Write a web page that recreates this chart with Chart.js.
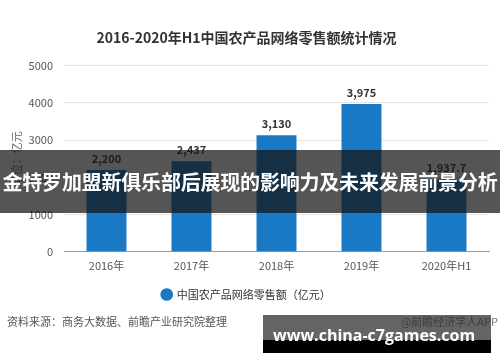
<!DOCTYPE html>
<html>
<head>
<meta charset="utf-8">
<script src="https://cdn.jsdelivr.net/npm/chart.js@4"></script>
<style>
  body { margin: 0; background: #fff; font-family: "Noto Sans CJK SC", sans-serif; }
  #wrap { position: relative; width: 500px; height: 362px; overflow: hidden; }
  #source { position: absolute; left: 7px; top: 313px; font-size: 11px; color: #555; }
  #app { position: absolute; right: 2px; top: 313px; font-size: 11px; color: #777; }
  #band { position: absolute; left: 0; top: 150px; width: 500px; height: 63px; background: rgba(20,20,20,0.72);
          color: #fff; font-weight: bold; font-size: 20px; line-height: 63px; white-space: nowrap; text-align: center; letter-spacing: -0.2px; }
  #site { position: absolute; left: 263px; top: 315px; width: 228px; height: 38px; }
  #site .top { height: 25px; background: rgba(40,40,40,0.72); }
  #site .bot { height: 13px; background: #000; }
  #site span { position: absolute; left: 10px; top: 10px; color: #fff; font-weight: bold; font-size: 16px; line-height: 20px;
               white-space: nowrap; font-family: "Open Sans", sans-serif; }
</style>
</head>
<body>
<div id="wrap">
  <canvas id="chart" width="500" height="362"></canvas>
  <div id="source">资料来源：商务大数据、前瞻产业研究院整理</div>
  <div id="app">@前瞻经济学人APP</div>
  <div id="band">金特罗加盟新俱乐部后展现的影响力及未来发展前景分析</div>
  <div id="site"><div class="top"></div><div class="bot"></div><span>www.china-c7games.com</span></div>
</div>
<script>
const years = ['2016年', '2017年', '2018年', '2019年', '2020年H1'];
const sales = [2200, 2437, 3130, 3975, 1937.7];
const valueLabels = ['2,200', '2,437', '3,130', '3,975', '1,937.7'];
const yTicks = [0, 1000, 2000, 3000, 4000, 5000];

const font = '"Noto Sans CJK SC", sans-serif';

// draw the value above each bar
const barLabels = {
  id: 'barLabels',
  afterDatasetsDraw(chart) {
    const ctx = chart.ctx;
    const meta = chart.getDatasetMeta(0);
    ctx.save();
    ctx.font = 'bold 11px ' + font;
    ctx.fillStyle = '#333';
    ctx.textAlign = 'center';
    ctx.textBaseline = 'bottom';
    meta.data.forEach((bar, i) => {
      ctx.fillText(valueLabels[i], bar.x, bar.y - 6);
    });
    ctx.restore();
  }
};

new Chart(document.getElementById('chart'), {
  type: 'bar',
  data: {
    labels: years,
    datasets: [{
      label: '中国农产品网络零售额（亿元）',
      data: sales,
      backgroundColor: '#1a79c4',
      categoryPercentage: 1,
      barPercentage: 0.47
    }]
  },
  options: {
    responsive: false,
    animation: false,
    layout: { padding: { left: 4, right: 11, bottom: 52 } },
    scales: {
      x: {
        grid: { display: false, drawTicks: false },
        border: { color: '#999' },
        ticks: { color: '#555', font: { family: font, size: 11 }, padding: 7 }
      },
      y: {
        min: 0,
        max: 5000,
        afterBuildTicks: axis => { axis.ticks = yTicks.map(v => ({ value: v })); },
        afterFit: axis => { axis.width = 60; },
        grid: { color: '#e3e3e3', drawTicks: false },
        border: { display: false },
        ticks: { color: '#555', font: { family: font, size: 11 }, padding: 11, callback: v => String(v) },
        title: { display: true, text: '单位：亿元', color: '#666', font: { family: font, size: 11 }, padding: { top: 6, bottom: 4 } }
      }
    },
    plugins: {
      title: {
        display: true,
        text: '2016-2020年H1中国农产品网络零售额统计情况',
        color: '#333',
        font: { family: font, size: 14, weight: 'bold' },
        padding: { top: 29, bottom: 20 }
      },
      legend: {
        position: 'bottom',
        labels: {
          usePointStyle: true,
          pointStyle: 'circle',
          boxWidth: 9,
          boxHeight: 9,
          color: '#333',
          font: { family: font, size: 11 }
        }
      },
      tooltip: { enabled: false }
    }
  },
  plugins: [barLabels]
});
</script>
</body>
</html>
